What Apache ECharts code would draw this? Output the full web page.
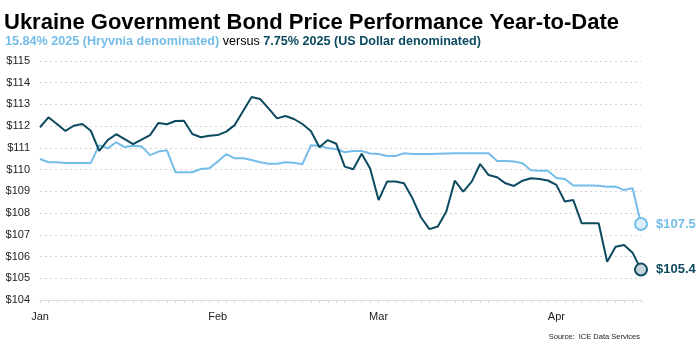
<!DOCTYPE html>
<html>
<head>
<meta charset="utf-8">
<script src="https://cdn.jsdelivr.net/npm/echarts@6/dist/echarts.min.js"></script>
<style>html,body{margin:0;padding:0;background:#fff}#c{width:700px;height:356px}</style>
</head>
<body>
<div id="c"></div>
<script>
// Business days (2025)
const dates = [
 '2025-01-02','2025-01-03','2025-01-06','2025-01-07','2025-01-08','2025-01-09','2025-01-10','2025-01-13','2025-01-14','2025-01-15',
 '2025-01-16','2025-01-17','2025-01-21','2025-01-22','2025-01-23','2025-01-24','2025-01-27','2025-01-28','2025-01-29','2025-01-30',
 '2025-01-31','2025-02-03','2025-02-04','2025-02-05','2025-02-06','2025-02-07','2025-02-10','2025-02-11','2025-02-12','2025-02-13',
 '2025-02-14','2025-02-18','2025-02-19','2025-02-20','2025-02-21','2025-02-24','2025-02-25','2025-02-26','2025-02-27','2025-02-28',
 '2025-03-03','2025-03-04','2025-03-05','2025-03-06','2025-03-07','2025-03-10','2025-03-11','2025-03-12','2025-03-13','2025-03-14',
 '2025-03-17','2025-03-18','2025-03-19','2025-03-20','2025-03-21','2025-03-24','2025-03-25','2025-03-26','2025-03-27','2025-03-28',
 '2025-03-31','2025-04-01','2025-04-02','2025-04-03','2025-04-04','2025-04-07','2025-04-08','2025-04-09','2025-04-10','2025-04-11',
 '2025-04-14','2025-04-15'
];
const monthNames = ['Jan','Feb','Mar','Apr','May','Jun','Jul','Aug','Sep','Oct','Nov','Dec'];

// 15.84% 2025 (Hryvnia denominated)
const hryvnia = [
 110.49,110.34,110.34,110.31,110.31,110.31,110.31,111.13,110.98,111.26,
 111.04,111.10,111.07,110.67,110.83,110.89,109.88,109.88,109.88,110.03,
 110.06,110.37,110.71,110.52,110.52,110.44,110.34,110.27,110.27,110.34,
 110.32,110.25,111.12,111.10,110.98,110.95,110.80,110.86,110.86,110.74,
 110.72,110.63,110.63,110.75,110.72,110.72,110.72,110.73,110.74,110.75,
 110.75,110.75,110.75,110.75,110.40,110.40,110.37,110.29,109.97,109.95,
 109.95,109.62,109.57,109.27,109.27,109.27,109.26,109.21,109.22,109.06,
 109.15,107.5
];
// 7.75% 2025 (US Dollar denominated)
const usd = [
 111.95,112.41,112.10,111.78,112.02,112.10,111.79,110.86,111.36,111.63,
 111.40,111.17,111.38,111.59,112.15,112.09,112.24,112.25,111.64,111.49,
 111.56,111.59,111.75,112.05,112.70,113.34,113.25,112.82,112.36,112.47,
 112.33,112.10,111.78,111.03,111.36,111.19,110.14,110.02,110.73,110.05,
 108.60,109.45,109.45,109.37,108.68,107.81,107.26,107.38,108.07,109.49,
 108.99,109.45,110.26,109.75,109.65,109.37,109.25,109.49,109.60,109.57,
 109.50,109.30,108.53,108.60,107.53,107.53,107.53,105.76,106.45,106.53,
 106.18,105.4
];
const yMin = 104, yMax = 115, yStep = 1;

const LIGHT = '#74bde9', DARK = '#0c4a60';
const FONT = 'Liberation Sans, Arial, sans-serif';

function makeSeries(name, arr, color, fill, z) {
  const last = arr.length - 1;
  return {
    name: name, type: 'line', data: arr, z: z,
    symbol: 'circle', showSymbol: true, showAllSymbol: true,
    symbolSize: (v, p) => (p.dataIndex === last ? 12 : 0),
    lineStyle: { color: color, width: 2 },
    itemStyle: { color: fill, borderColor: color, borderWidth: 2 },
    label: {
      show: true, position: 'right', distance: 8,
      formatter: p => (p.dataIndex === last ? '$' + p.value.toFixed(1) : ''),
      color: color, fontSize: 13, fontWeight: 'bold', fontFamily: FONT, offset: [0, -2]
    },
    labelLayout: { hideOverlap: false },
    emphasis: { disabled: true }
  };
}

const chart = echarts.init(document.getElementById('c'), null, { renderer: 'canvas' });
chart.setOption({
  animation: false,
  title: [
    { text: 'Ukraine Government Bond Price Performance Year-to-Date', left: 4, top: 12, padding: 0,
      textStyle: { fontSize: 22, fontWeight: 'bold', color: '#000', fontFamily: FONT } },
    { text: '{a|15.84% 2025 (Hryvnia denominated)}{b| versus }{c|7.75% 2025 (US Dollar denominated)}',
      left: 5, top: 35, padding: 0,
      textStyle: { fontFamily: FONT, fontWeight: 'normal', rich: {
        a: { color: LIGHT, fontSize: 12.6, fontWeight: 'bold', fontFamily: FONT },
        b: { color: '#000', fontSize: 12.6, fontWeight: 'normal', fontFamily: FONT },
        c: { color: DARK, fontSize: 12.6, fontWeight: 'bold', fontFamily: FONT }
      } } }
  ],
  grid: { left: 40, top: 61, width: 601, height: 239, containLabel: false },
  xAxis: {
    type: 'category', data: dates, boundaryGap: false,
    axisLine: { lineStyle: { color: '#d9d9d9', width: 1 } },
    axisTick: { show: true, interval: 0, length: 3, lineStyle: { color: '#d9d9d9' } },
    axisLabel: {
      margin: 11, color: '#222', fontSize: 11, fontFamily: FONT,
      interval: (i, v) => i === 0 || dates[i].slice(5, 7) !== dates[i - 1].slice(5, 7),
      formatter: v => monthNames[parseInt(v.slice(5, 7), 10) - 1]
    },
    splitLine: { show: false }
  },
  yAxis: {
    type: 'value', min: yMin, max: yMax, interval: yStep,
    axisLine: { show: false }, axisTick: { show: false },
    axisLabel: { formatter: '${value}', color: '#222', fontSize: 11, fontFamily: FONT, margin: 10 },
    splitLine: { lineStyle: { color: '#d4d4d4', type: [2, 3], width: 1 } }
  },
  series: [
    makeSeries('Hryvnia', hryvnia, LIGHT, '#dcf0fb', 2),
    makeSeries('USD', usd, DARK, '#c6d5da', 3)
  ],
  graphic: [
    { type: 'text', right: 60, top: 333,
      style: { text: 'Source:  ICE Data Services', fontSize: 7.5, fill: '#222', fontFamily: FONT } }
  ]
});
</script>
</body>
</html>
